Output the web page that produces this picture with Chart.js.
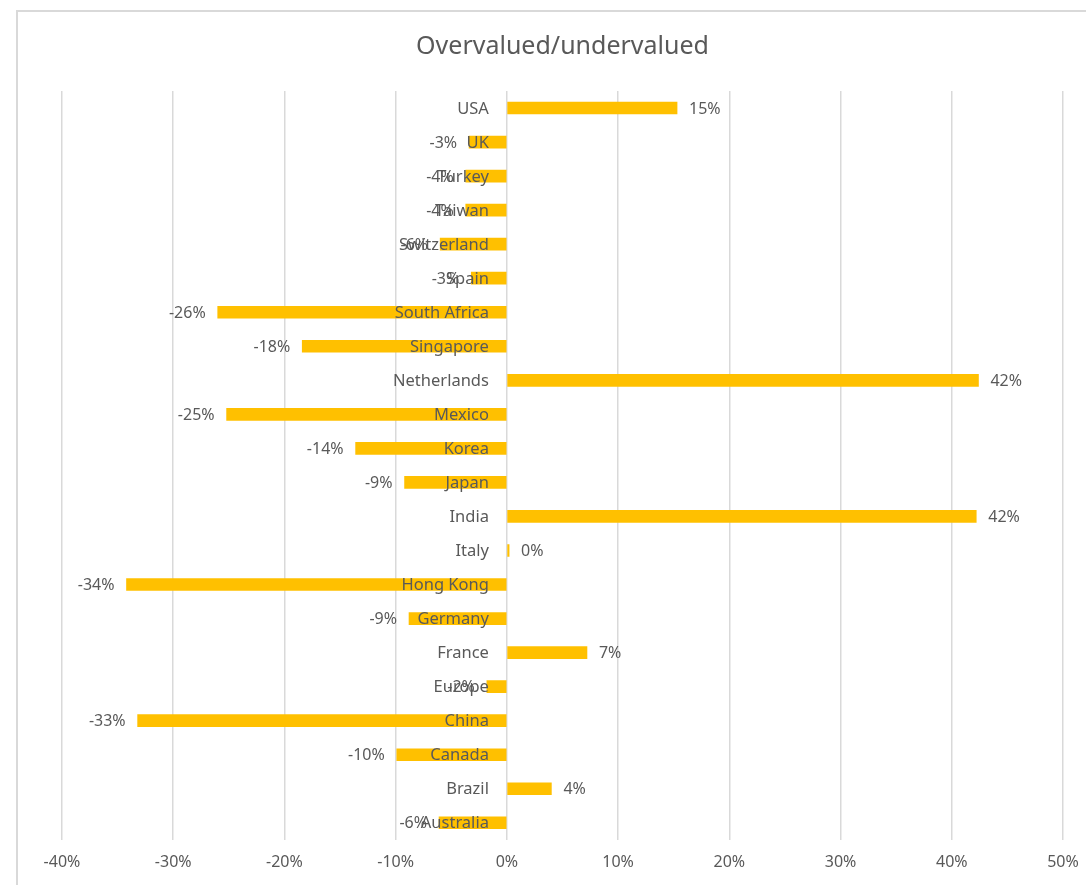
<!DOCTYPE html>
<html>
<head>
<meta charset="utf-8">
<script src="https://cdn.jsdelivr.net/npm/chart.js@4.4.1/dist/chart.umd.min.js"></script>
<style>
  html, body { margin: 0; padding: 0; background: #fff; }
  #frame { position: absolute; left: 16px; top: 10px; width: 1200px; height: 1000px;
           border-left: 2px solid #d9d9d9; border-top: 2px solid #d9d9d9; }
  #wrap { position: absolute; left: 0; top: 0; width: 1086px; height: 885px; }
</style>
</head>
<body>
<div id="frame"></div>
<div id="wrap"><canvas id="chart-1"></canvas></div>
<script>
const countries = ["USA", "UK", "Turkey", "Taiwan", "Switzerland", "Spain", "South Africa",
    "Singapore", "Netherlands", "Mexico", "Korea", "Japan", "India", "Italy", "Hong Kong",
    "Germany", "France", "Europe", "China", "Canada", "Brazil", "Australia"];
const valuation = [15.3, -3.4, -3.7, -3.7, -6.0, -3.2, -26.0,
    -18.4, 42.4, -25.2, -13.6, -9.2, 42.2, 0.2, -34.2,
    -8.8, 7.2, -1.8, -33.2, -9.9, 4.0, -6.1];
const axisMin = -40;
const axisMax = 50;
const axisStep = 10;

// category names sit next to the zero line, drawn on top of the bars;
// value labels next to the end of each bar
const barLabels = {
    id: "barLabels",
    afterDatasetsDraw(chart) {
        const ctx = chart.ctx;
        const meta = chart.getDatasetMeta(0);
        const xs = chart.scales.x;
        const ys = chart.scales.y;
        const zero = xs.getPixelForValue(0);
        ctx.save();
        ctx.fillStyle = "#595959";
        ctx.textBaseline = "middle";

        ctx.font = "16.5px 'Noto Sans'";
        ctx.textAlign = "right";
        chart.data.labels.forEach((name, i) => {
            ctx.fillText(name, zero - 18, ys.getPixelForValue(i) + 1);
        });

        ctx.font = "16px 'Noto Sans'";
        meta.data.forEach((bar, i) => {
            const v = chart.data.datasets[0].data[i];
            if (v < 0) {
                ctx.textAlign = "right";
                ctx.fillText(Math.round(v) + "%", bar.x - 12, bar.y + 1);
            } else {
                ctx.textAlign = "left";
                ctx.fillText(Math.round(v) + "%", bar.x + 12, bar.y + 1);
            }
        });
        ctx.restore();
    },
};

const ctx1 = document.getElementById("chart-1").getContext("2d");
const myChart = new Chart(ctx1, {
    type: "bar",
    data: {
        labels: countries,
        datasets: [
            {
                label: "Overvalued/undervalued",
                data: valuation,
                backgroundColor: "#FFC000",
                barThickness: 12,
            },
        ],
    },
    options: {
        indexAxis: "y",
        responsive: true,
        maintainAspectRatio: false,
        animation: false,
        layout: { padding: { left: 62, right: 23, top: 0, bottom: 0 } },
        plugins: {
            legend: { display: false },
            tooltip: { enabled: false },
            title: {
                display: true,
                text: "Overvalued/undervalued",
                color: "#595959",
                font: { family: "'Noto Sans'", size: 25, weight: "normal" },
                padding: { top: 32, bottom: 29 },
            },
        },
        scales: {
            x: {
                min: axisMin,
                max: axisMax,
                grid: { color: "#d9d9d9", lineWidth: 1.5, drawTicks: false },
                border: { display: false },
                afterFit: (scale) => {
                    scale.paddingLeft = 0;
                    scale.paddingRight = 0;
                },
                ticks: {
                    stepSize: axisStep,
                    padding: 13,
                    color: "#595959",
                    font: { family: "'Noto Sans'", size: 16 },
                    callback: (v) => v + "%",
                },
            },
            y: {
                display: false,
            },
        },
    },
    plugins: [barLabels],
});
</script>
</body>
</html>
